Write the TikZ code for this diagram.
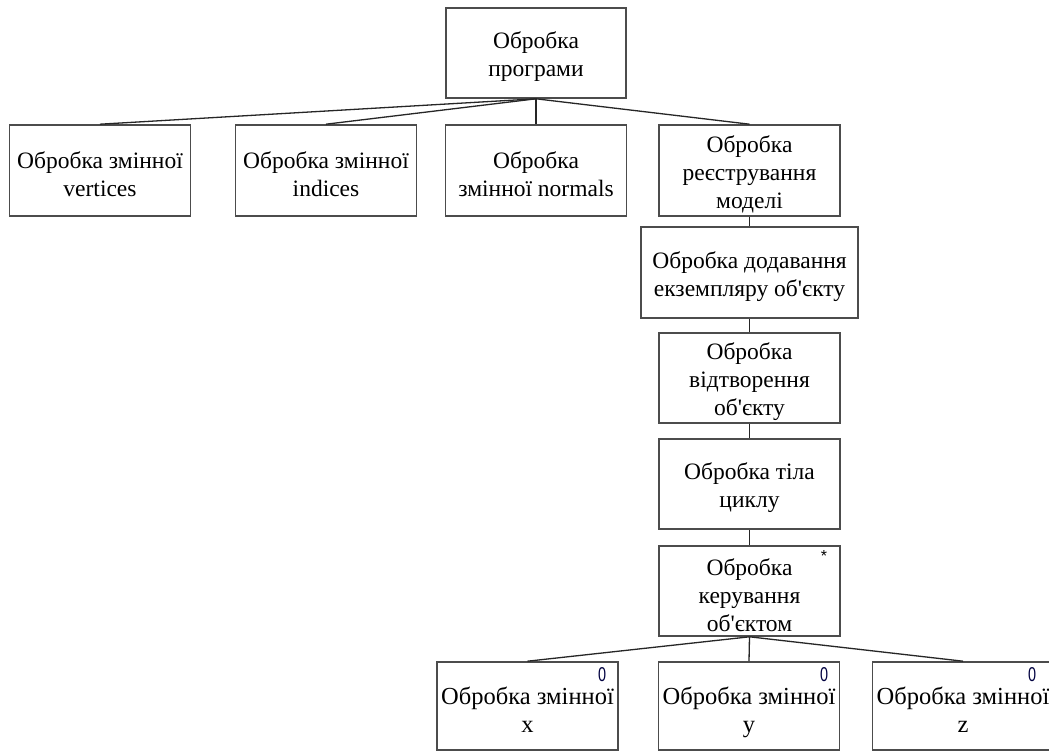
\documentclass[tikz,border=0pt]{standalone}
\usepackage{fontspec}
\setmainfont{Liberation Serif}[Ligatures=TeXOff]
\newfontfamily\tagfont{Liberation Sans}
% extra room above the first line, so the text sits a little lower in its box
\newcommand{\firstline}{\rule{0pt}{25pt}}
\newcommand{\leafline}{\rule{0pt}{30pt}}
% equal depth under the last leaf line, whatever its letter
\newcommand{\leafdepth}{\rule[-6pt]{0pt}{6pt}}
\begin{document}
\begin{tikzpicture}[x=1pt, y=-1pt,
  box/.style={draw=black!70, line width=1.6pt, fill=white,
    minimum width=181pt, minimum height=91pt, inner sep=0pt,
    align=center, font=\fontsize{23.5}{28}\selectfont},
  leafbox/.style={box, minimum height=88pt, font=\fontsize{24.5}{28}\selectfont},
  link/.style={draw=black!85, line width=1.3pt},
  zerotag/.style={font=\tagfont\fontsize{20}{20}\selectfont, inner sep=0pt,
    xscale=0.72, transform shape, text=black!75!blue},
  startag/.style={font=\tagfont\fontsize{16}{16}\selectfont, inner sep=0pt}]
\clip (0,0) rectangle (1049,751);
\fill[white] (0,0) rectangle (1049,751);

% root
\node[box, minimum width=180pt, minimum height=90pt] (root) at (536,53) {\firstline Обробка\\програми};

% first level
\node[box] (vert) at (100,170.5) {\firstline Обробка змінної\\vertices};
\node[box] (ind)  at (326,170.5) {\firstline Обробка змінної\\indices};
\node[box] (norm) at (536,170.5) {\firstline Обробка\\змінної normals};
\node[box] (reg)  at (749.5,170.5) {\firstline Обробка\\реєстрування\\моделі};

% chain below the model registration
\node[box, minimum width=217pt] (add) at (749.5,272.5) {\firstline Обробка додавання\\екземпляру об'єкту};
\node[box, minimum height=90pt] (draw) at (749.5,378) {\firstline Обробка\\відтворення\\об'єкту};
\node[box, minimum height=90pt] (loop) at (749.5,484) {\firstline Обробка тіла\\циклу};
\node[box, minimum height=90pt] (ctrl) at (749.5,591) {\firstline Обробка\\керування\\об'єктом};
\node[startag] (star) at (824,556) {*};

% leaves
\node[leafbox] (vx) at (527.5,706) {\leafline Обробка змінної\\x\leafdepth};
\node[leafbox] (vy) at (749,706) {\leafline Обробка змінної\\y\leafdepth};
\node[leafbox] (vz) at (963,706) {\leafline Обробка змінної\\z\leafdepth};
\node[zerotag] (zx) at (602,675) {0};
\node[zerotag] (zy) at (824,675) {0};
\node[zerotag] (zz) at (1032,675) {0};

% connectors
\draw[link] (root.south) -- (vert.north);
\draw[link] (root.south) -- (ind.north);
\draw[link] (root.south) -- (norm.north);
\draw[link] (root.south) -- (reg.north);
\draw[link] (reg.south) -- (add.north);
\draw[link] (add.south) -- (draw.north);
\draw[link] (draw.south) -- (loop.north);
\draw[link] (loop.south) -- (ctrl.north);
\draw[link] (ctrl.south) -- (vx.north);
\draw[link] (ctrl.south) -- (vy.north);
\draw[link] (ctrl.south) -- (vz.north);
\end{tikzpicture}
\end{document}
